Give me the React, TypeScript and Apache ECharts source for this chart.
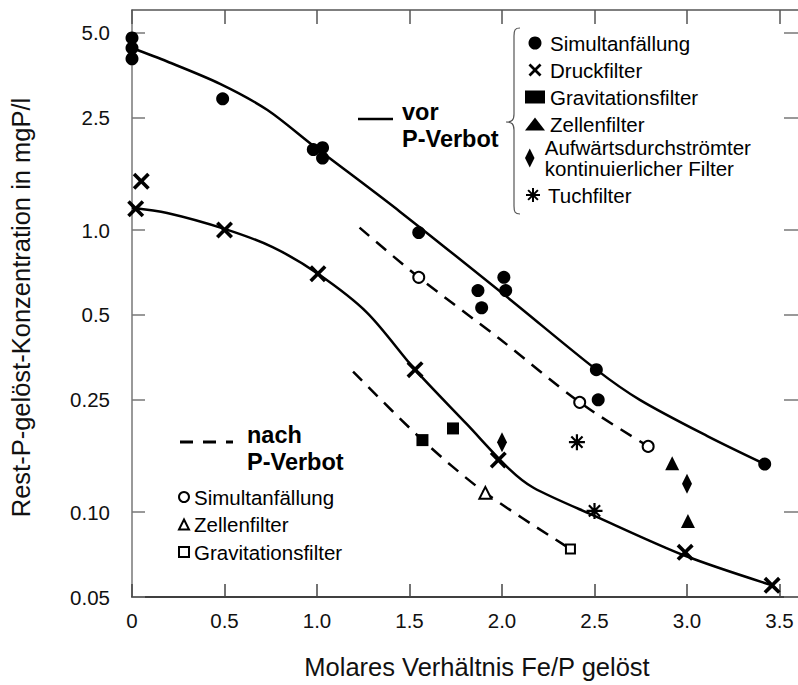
import React, { useEffect, useRef } from "react";
import * as echarts from "echarts";

// ---- axes ----
const xTicks = [0, 0.5, 1.0, 1.5, 2.0, 2.5, 3.0, 3.5];
const xMin = 0;
const xMax = 3.6;
const yTicks = [0.05, 0.1, 0.25, 0.5, 1.0, 2.5, 5.0];
const yTickLabels = ["0.05", "0.10", "0.25", "0.5", "1.0", "2.5", "5.0"];
const yMin = 0.05;
const yMax = 6.03;

// ---- measurements before the ban (filled symbols) ----
const simVorX = [0, 0, 0, 0.49, 0.98, 1.03, 1.03, 1.55, 1.87, 1.89, 2.01, 2.02, 2.51, 2.52, 3.42];
const simVorY = [4.8, 4.42, 4.05, 2.92, 1.93, 1.96, 1.8, 0.98, 0.61, 0.53, 0.68, 0.61, 0.32, 0.25, 0.148];
const druckX = [0.05, 0.02, 0.5, 1.005, 1.53, 1.98, 2.99, 3.46];
const druckY = [1.49, 1.19, 1.0, 0.7, 0.32, 0.153, 0.072, 0.055];
const gravVorX = [1.57, 1.735];
const gravVorY = [0.18, 0.198];
const zellVorX = [2.92, 3.005];
const zellVorY = [0.149, 0.093];
const aufwX = [2.0, 3.0];
const aufwY = [0.177, 0.126];
const tuchX = [2.405, 2.5];
const tuchY = [0.177, 0.101];

// ---- measurements after the ban (open symbols) ----
const simNachX = [1.55, 2.42, 2.79];
const simNachY = [0.68, 0.245, 0.171];
const zellNachX = [1.91];
const zellNachY = [0.117];
const gravNachX = [2.37];
const gravNachY = [0.074];

// ---- fitted curves ----
const curveVorSimX = [0, 0.19, 0.476, 0.73, 0.98, 1.45, 2.04, 2.51, 2.745, 3.11, 3.42];
const curveVorSimY = [4.42, 3.96, 3.3, 2.67, 1.99, 1.16, 0.57, 0.32, 0.25, 0.186, 0.148];
const curveVorDruckX = [0, 0.19, 0.5, 0.76, 1.005, 1.27, 1.53, 1.81, 2.04, 2.17, 2.5, 2.99, 3.46];
const curveVorDruckY = [1.2, 1.15, 1.01, 0.87, 0.7, 0.51, 0.32, 0.205, 0.142, 0.122, 0.097, 0.07, 0.055];
const curveNachSimX = [1.23, 1.55, 1.99, 2.42, 2.79, 2.84];
const curveNachSimY = [1.02, 0.68, 0.41, 0.245, 0.171, 0.165];
const curveNachGravX = [1.195, 1.57, 1.91, 2.37];
const curveNachGravY = [0.315, 0.18, 0.117, 0.074];

// ---- legend names ----
const vorNames = [
  "Simultanfällung",
  "Druckfilter",
  "Gravitationsfilter",
  "Zellenfilter",
  "Aufwärtsdurchströmter\nkontinuierlicher Filter",
  "Tuchfilter",
];
const nachNames = ["Simultanfällung", "Zellenfilter", "Gravitationsfilter"];

const FONT = '"Liberation Sans", Arial, Helvetica, sans-serif';
const CROSS = "path://M3,0L10,7L17,0L20,3L13,10L20,17L17,20L10,13L3,20L0,17L7,10L0,3Z";
const STAR = "path://M10,0L10,20M0,10L20,10M3,3L17,17M17,3L3,17";
const TALL_DIAMOND = "path://M5,0L10,10L5,20L0,10Z";

const lg = (v: number) => Math.log10(v);
const pts = (xs: number[], ys: number[]) => xs.map((x, i) => [x, lg(ys[i])]);

const BRACE_D =
  "M14,0 C9,0 8,2 8,8 L8,86 C8,92 6,94 0,94 C6,94 8,96 8,102 L8,178 C8,184 9,186 14,186";
let braceRegistered = false;

function scatter(id: string, xs: number[], ys: number[], symbol: string, size: any, itemStyle: any = {}) {
  return {
    type: "scatter",
    name: id,
    data: pts(xs, ys),
    symbol,
    symbolSize: size,
    itemStyle: { color: "#000", opacity: 1, ...itemStyle },
    z: 4,
    silent: true,
  };
}

function curve(xs: number[], ys: number[], dashed: boolean) {
  return {
    type: "line",
    data: pts(xs, ys),
    smooth: 0.3,
    showSymbol: false,
    symbol: "none",
    lineStyle: { color: "#000", width: 2.5, type: dashed ? [13, 9] : "solid" },
    z: 2,
    silent: true,
  };
}

export default function App() {
  const ref = useRef<HTMLDivElement>(null);

  useEffect(() => {
    if (!ref.current) return;
    if (!braceRegistered) {
      echarts.graphic.registerShape("brace", echarts.graphic.extendPath(BRACE_D, {}));
      braceRegistered = true;
    }
    const chart = echarts.init(ref.current, undefined, { renderer: "svg" });

    const yLabel = (v: number) => {
      const i = yTicks.findIndex((t) => Math.abs(lg(t) - v) < 1e-6);
      return i >= 0 ? yTickLabels[i] : "";
    };

    const vorIds = ["vSim", "vDruck", "vGrav", "vZell", "vAufw", "vTuch"];
    const nachIds = ["nSim", "nZell", "nGrav"];
    const names: Record<string, string> = {};
    vorIds.forEach((id, i) => (names[id] = vorNames[i]));
    nachIds.forEach((id, i) => (names[id] = nachNames[i]));

    const legendText = { fontSize: 20.5, lineHeight: 20.5, color: "#000", fontFamily: FONT };
    const legendBase = {
      orient: "vertical",
      padding: 0,
      selectedMode: false,
      itemStyle: { opacity: 1 },
      formatter: (n: string) => names[n],
    };

    const boldText = (text: string, x: number, y: number) => ({
      type: "text",
      x,
      y,
      style: {
        text,
        fontSize: 23.5,
        fontWeight: "bold",
        fontFamily: FONT,
        fill: "#000",
        textVerticalAlign: "middle",
        verticalAlign: "middle",
      },
    });

    const option: any = {
      animation: false,
      backgroundColor: "#fff",
      textStyle: { fontFamily: FONT },
      grid: { left: 132, right: 0, top: 10, bottom: 87, containLabel: false },
      xAxis: [
        {
          type: "value",
          min: xMin,
          max: xMax,
          position: "bottom",
          name: "Molares Verhältnis Fe/P gelöst",
          nameLocation: "middle",
          nameGap: 57,
          nameTextStyle: { fontSize: 25.5, color: "#111", fontFamily: FONT, padding: [0, 0, 0, 24] },
          axisLine: { onZero: false, lineStyle: { color: "#000", width: 1.5 } },
          axisTick: { inside: true, length: 13, customValues: xTicks, lineStyle: { color: "#444", width: 1.5 } },
          axisLabel: {
            customValues: xTicks,
            margin: 13,
            fontSize: 20.5,
            color: "#111",
            fontFamily: FONT,
            formatter: (v: number) => (v === 0 ? "0" : v.toFixed(1)),
          },
          splitLine: { show: false },
        },
        {
          type: "value",
          min: xMin,
          max: xMax,
          position: "top",
          axisLine: { onZero: false, lineStyle: { color: "#555", width: 1.5 } },
          axisTick: { inside: true, length: 14, customValues: xTicks, lineStyle: { color: "#555", width: 1.5 } },
          axisLabel: { show: false },
          splitLine: { show: false },
        },
      ],
      yAxis: [
        {
          type: "value",
          min: lg(yMin),
          max: lg(yMax),
          position: "left",
          name: "Rest-P-gelöst-Konzentration in mgP/l",
          nameLocation: "middle",
          nameGap: 98,
          nameTextStyle: { fontSize: 25.5, color: "#111", fontFamily: FONT, padding: [0, 8, 0, 0] },
          axisLine: { onZero: false, lineStyle: { color: "#777", width: 1.5 } },
          axisTick: { inside: true, length: 13, customValues: yTicks.map(lg), lineStyle: { color: "#777", width: 1.5 } },
          axisLabel: {
            customValues: yTicks.map(lg),
            margin: 22,
            fontSize: 20.5,
            color: "#111",
            fontFamily: FONT,
            formatter: yLabel,
          },
          splitLine: { show: false },
        },
        {
          type: "value",
          min: lg(yMin),
          max: lg(yMax),
          position: "right",
          axisLine: { show: false, onZero: false },
          axisTick: { inside: true, length: 14, customValues: yTicks.map(lg), lineStyle: { color: "#777", width: 1.5 } },
          axisLabel: { show: false },
          splitLine: { show: false },
        },
      ],
      legend: [
        {
          ...legendBase,
          data: ["vSim", "vDruck", "vGrav", "vZell"],
          left: 525,
          top: 32.5,
          itemGap: 6,
          itemWidth: 20,
          itemHeight: 13,
          textStyle: legendText,
        },
        {
          ...legendBase,
          data: [{ name: "vAufw", icon: TALL_DIAMOND }],
          left: 525,
          top: 137,
          itemWidth: 20,
          itemHeight: 19,
          textStyle: { ...legendText, lineHeight: 21 },
        },
        {
          ...legendBase,
          data: ["vTuch"],
          left: 525,
          top: 184.5,
          itemWidth: 20,
          itemHeight: 14,
          textStyle: legendText,
        },
        {
          ...legendBase,
          data: nachIds,
          left: 178,
          top: 486.5,
          itemGap: 6.5,
          itemWidth: 10,
          itemHeight: 10,
          textStyle: { ...legendText, lineHeight: 21 },
        },
      ],
      graphic: [
        // brace grouping the filled-symbol legend
        {
          type: "brace",
          x: 506,
          y: 28,
          style: { fill: "none", stroke: "#555", lineWidth: 1.2 },
          silent: true,
        },
        // "vor P-Verbot" key
        {
          type: "line",
          shape: { x1: 358, y1: 119, x2: 393, y2: 119 },
          style: { stroke: "#000", lineWidth: 2.5 },
        },
        boldText("vor", 402, 111.5),
        boldText("P-Verbot", 402, 138.5),
        // "nach P-Verbot" key
        {
          type: "line",
          shape: { x1: 180, y1: 442, x2: 233, y2: 442 },
          style: { stroke: "#000", lineWidth: 3, lineDash: [13, 10] },
        },
        boldText("nach", 247, 434.5),
        boldText("P-Verbot", 247, 461.5),
      ],
      series: [
        curve(curveVorSimX, curveVorSimY, false),
        curve(curveVorDruckX, curveVorDruckY, false),
        curve(curveNachSimX, curveNachSimY, true),
        curve(curveNachGravX, curveNachGravY, true),
        scatter("vSim", simVorX, simVorY, "circle", 13),
        scatter("vDruck", druckX, druckY, CROSS, 17),
        scatter("vGrav", gravVorX, gravVorY, "rect", 12),
        scatter("vZell", zellVorX, zellVorY, "triangle", 14),
        scatter("vAufw", aufwX, aufwY, TALL_DIAMOND, [10, 20]),
        scatter("vTuch", tuchX, tuchY, STAR, 16, { borderColor: "#000", borderWidth: 2.2 }),
        scatter("nSim", simNachX, simNachY, "emptyCircle", 11, { borderWidth: 2 }),
        scatter("nZell", zellNachX, zellNachY, "emptyTriangle", 12, { borderWidth: 1.5 }),
        scatter("nGrav", gravNachX, gravNachY, "emptyRect", 9, { borderWidth: 2 }),
      ],
    };

    chart.setOption(option);
    return () => chart.dispose();
  }, []);

  return (
    <div
      ref={ref}
      style={{ position: "fixed", left: 0, top: 0, width: 798, height: 685, background: "#fff" }}
    />
  );
}
